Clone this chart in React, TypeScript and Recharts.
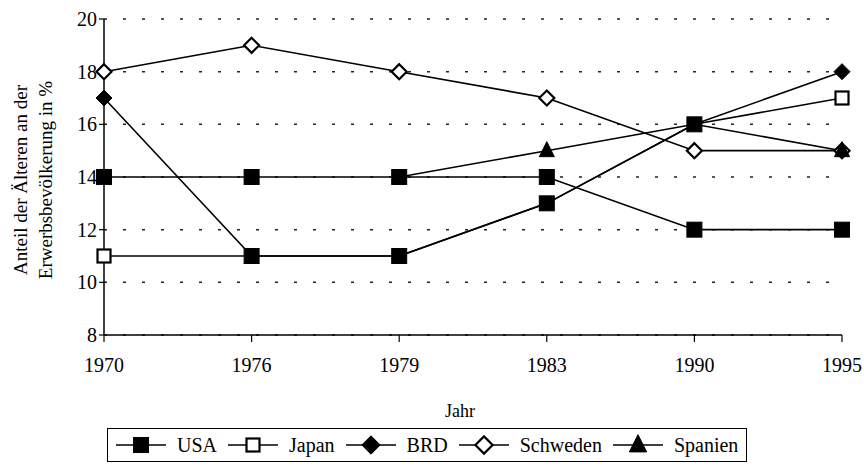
import { LineChart, Line, XAxis, YAxis, CartesianGrid } from "recharts";

const YEARS = ["1970", "1976", "1979", "1983", "1990", "1995"];
const USA = [14, 14, 14, 14, 12, 12];
const JAPAN = [11, 11, 11, 13, 16, 17];
const BRD = [17, 11, 11, 13, 16, 18];
const SCHWEDEN = [18, 19, 18, 17, 15, 15];
const SPANIEN = [null, null, 14, 15, 16, 15];
const Y_TICKS = [8, 10, 12, 14, 16, 18, 20];

const data = YEARS.map((year, i) => ({
  year,
  usa: USA[i],
  japan: JAPAN[i],
  brd: BRD[i],
  schweden: SCHWEDEN[i],
  spanien: SPANIEN[i],
}));

const FONT = "'Liberation Serif', 'DejaVu Serif', serif";

type Shape = "square" | "diamond" | "triangle";

function Marker({ shape, filled, cx, cy, big }: { shape: Shape; filled: boolean; cx: number; cy: number; big?: boolean }) {
  const fill = filled ? "#000" : "#fff";
  const k = big ? 1.15 : 1;
  if (shape === "square") {
    const s = filled ? 7.5 : 6.5;
    return <rect x={cx - s} y={cy - s} width={s * 2} height={s * 2} fill={fill} stroke="#000" strokeWidth={filled ? 1 : 2.2} />;
  }
  if (shape === "diamond") {
    const s = (filled ? 8 : 7.5) * k;
    return (
      <polygon
        points={`${cx},${cy - s} ${cx + s},${cy} ${cx},${cy + s} ${cx - s},${cy}`}
        fill={fill}
        stroke="#000"
        strokeWidth={filled ? 1 : 2.2}
      />
    );
  }
  const w = 7.5 * k;
  return <polygon points={`${cx},${cy - 9 * k} ${cx + w},${cy + 6 * k} ${cx - w},${cy + 6 * k}`} fill="#000" stroke="#000" />;
}

// which points show a marker and whether it is filled (overlapping points in the original print)
const makeDot = (shape: Shape, style: (i: number) => "filled" | "open" | "none") => (props: any) => {
  const { cx, cy, index } = props;
  const st = style(index);
  if (cx == null || cy == null || st === "none") return <g key={index} />;
  return (
    <g key={index}>
      <Marker shape={shape} filled={st === "filled"} cx={cx} cy={cy} />
    </g>
  );
};

const legendItems: { name: string; shape: Shape; filled: boolean }[] = [
  { name: "USA", shape: "square", filled: true },
  { name: "Japan", shape: "square", filled: false },
  { name: "BRD", shape: "diamond", filled: true },
  { name: "Schweden", shape: "diamond", filled: false },
  { name: "Spanien", shape: "triangle", filled: true },
];

const last = YEARS.length - 1;

export default function App() {
  return (
    <div style={{ position: "absolute", left: 0, top: 0, width: 864, height: 472, background: "#fff", fontFamily: FONT }}>
      <LineChart width={864} height={472} data={data} margin={{ top: 19, right: 22, bottom: 97, left: 64 }}>
        <CartesianGrid horizontal vertical={false} stroke="#222" strokeWidth={1.5} strokeDasharray="3 16" />
        <XAxis
          dataKey="year"
          scale="point"
          padding={{ left: 0, right: 0 }}
          height={40}
          axisLine={{ stroke: "#000", strokeWidth: 1.5 }}
          tickLine={{ stroke: "#000", strokeWidth: 1.2 }}
          tickSize={7}
          tickMargin={16}
          tick={{ fill: "#000", fontSize: 20, fontFamily: FONT }}
        />
        <YAxis
          domain={[8, 20]}
          ticks={Y_TICKS}
          width={40}
          axisLine={{ stroke: "#000", strokeWidth: 1.5 }}
          tickLine={{ stroke: "#000", strokeWidth: 1.2 }}
          tickSize={5}
          tickMargin={2}
          tick={{ fill: "#000", fontSize: 20, fontFamily: FONT }}
        />
        <Line dataKey="usa" stroke="#000" strokeWidth={1.6} isAnimationActive={false} dot={makeDot("square", () => "filled")} />
        <Line
          dataKey="japan"
          stroke="#000"
          strokeWidth={1.6}
          isAnimationActive={false}
          dot={makeDot("square", (i) => (i === 0 || i === last ? "open" : "filled"))}
        />
        <Line
          dataKey="brd"
          stroke="#000"
          strokeWidth={1.6}
          isAnimationActive={false}
          dot={makeDot("diamond", (i) => (i === 0 || i === last ? "filled" : "none"))}
        />
        <Line dataKey="schweden" stroke="#000" strokeWidth={1.6} isAnimationActive={false} dot={makeDot("diamond", () => "open")} />
        <Line
          dataKey="spanien"
          stroke="#000"
          strokeWidth={1.6}
          isAnimationActive={false}
          dot={makeDot("triangle", (i) => (i === 3 || i === last ? "filled" : "none"))}
        />
      </LineChart>

      <div
        style={{
          position: "absolute",
          left: 33,
          top: 180,
          transform: "translate(-50%, -50%) rotate(-90deg)",
          whiteSpace: "nowrap",
          fontSize: 19,
          lineHeight: "25px",
          textAlign: "center",
          color: "#000",
        }}
      >
        Anteil der Älteren an der
        <br />
        Erwerbsbevölkerung in %
      </div>

      <div style={{ position: "absolute", left: 460, top: 411, transform: "translate(-50%, -50%)", fontSize: 18, color: "#000" }}>
        Jahr
      </div>

      <div
        style={{
          position: "absolute",
          left: 107,
          top: 428,
          width: 640,
          height: 34,
          border: "1.5px solid #000",
          display: "flex",
          alignItems: "center",
          paddingLeft: 8,
          boxSizing: "border-box",
          fontSize: 20,
          color: "#000",
        }}
      >
        {legendItems.map((it, i) => (
          <div key={it.name} style={{ display: "flex", alignItems: "center", marginLeft: i === 0 ? 0 : 11 }}>
            <svg width={50} height={22}>
              <line x1={0} y1={11} x2={50} y2={11} stroke="#000" strokeWidth={1.6} />
              <Marker shape={it.shape} filled={it.filled} cx={25} cy={11} big />
            </svg>
            <span style={{ marginLeft: 11 }}>{it.name}</span>
          </div>
        ))}
      </div>
    </div>
  );
}
